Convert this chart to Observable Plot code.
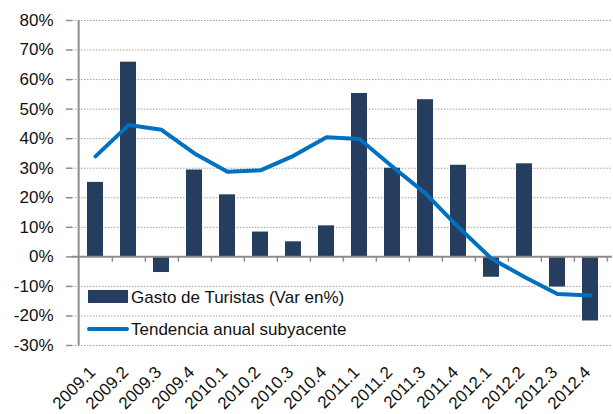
<!DOCTYPE html>
<html><head><meta charset="utf-8">
<script src="https://cdn.jsdelivr.net/npm/d3@7"></script>
<script src="https://cdn.jsdelivr.net/npm/@observablehq/plot@0.6"></script>
<style>body{margin:0;background:#fff}</style>
</head><body><div id="chart"></div>
<script>
const periods = ["2009.1","2009.2","2009.3","2009.4","2010.1","2010.2","2010.3","2010.4","2011.1","2011.2","2011.3","2011.4","2012.1","2012.2","2012.3","2012.4"];
const gasto = [25.2, 65.9, -5.3, 29.4, 21.0, 8.4, 5.1, 10.5, 55.3, 30.0, 53.2, 31.0, -6.9, 31.5, -10.2, -21.7];
const tendencia = [34.0, 44.6, 43.0, 35.0, 28.8, 29.3, 34.2, 40.5, 39.9, 30.5, 21.5, 10.0, -0.6, -6.8, -12.6, -13.1];
const yTicks = [-30,-20,-10,0,10,20,30,40,50,60,70,80];
const legendLabels = ["Gasto de Turistas (Var en%)", "Tendencia anual subyacente"];

const data = periods.map((p, i) => ({p, g: gasto[i], t: tendencia[i]}));
const mL = 72, mR = 1, W = 613, H = 414;
const step = (W - mL - mR) / periods.length;
const barColor = "#253E5F", lineColor = "#0070C0", axisColor = "#8c8c8c";
const font = "Liberation Sans";

const chart = Plot.plot({
  width: W, height: H,
  marginLeft: mL, marginRight: mR, marginTop: 20, marginBottom: 69,
  style: {fontFamily: font, fontSize: "17px", color: "#111", background: "#fff", overflow: "visible"},
  x: {domain: periods, paddingInner: 0.52, paddingOuter: 0.26, label: null},
  y: {domain: [-30, 80], label: null},
  marks: [
    Plot.ruleY(yTicks.filter(d => d !== 0), {stroke: "#a0a0a0", strokeDasharray: "1.5,1.5", strokeWidth: 1}),
    Plot.barY(data, {x: "p", y: "g", fill: barColor}),
    Plot.ruleY([0], {stroke: axisColor, strokeWidth: 2}),
    Plot.ruleX(periods, {x: d => d, y1: 0, y2: -1.8, dx: step / 2, stroke: axisColor, strokeWidth: 1.5}),
    Plot.ruleX([periods[0]], {x: d => d, y1: -30, y2: 80, dx: -step / 2, stroke: axisColor, strokeWidth: 2}),
    Plot.line(data, {x: "p", y: "t", stroke: lineColor, strokeWidth: 4}),
    Plot.axisY({ticks: yTicks, tickFormat: d => d + "%", tickSize: 6, tickPadding: 13, stroke: axisColor, strokeWidth: 1.5}),
    Plot.axisX({tickSize: 0, tickRotate: -45, tickPadding: 24, dx: -3})
  ]
});
document.getElementById("chart").appendChild(chart);

const svg = d3.select(chart);
const lg = svg.append("g").attr("font-family", font).attr("font-size", 17).attr("text-anchor", "start").attr("fill", "#111");
lg.append("rect").attr("x", 88).attr("y", 290).attr("width", 40).attr("height", 13).attr("fill", barColor);
lg.append("text").attr("x", 131).attr("y", 303).text(legendLabels[0]);
lg.append("line").attr("x1", 89).attr("x2", 127).attr("y1", 329).attr("y2", 329).attr("stroke", lineColor).attr("stroke-width", 4).attr("stroke-linecap", "round");
lg.append("text").attr("x", 131).attr("y", 335).text(legendLabels[1]);
</script>
</body></html>
